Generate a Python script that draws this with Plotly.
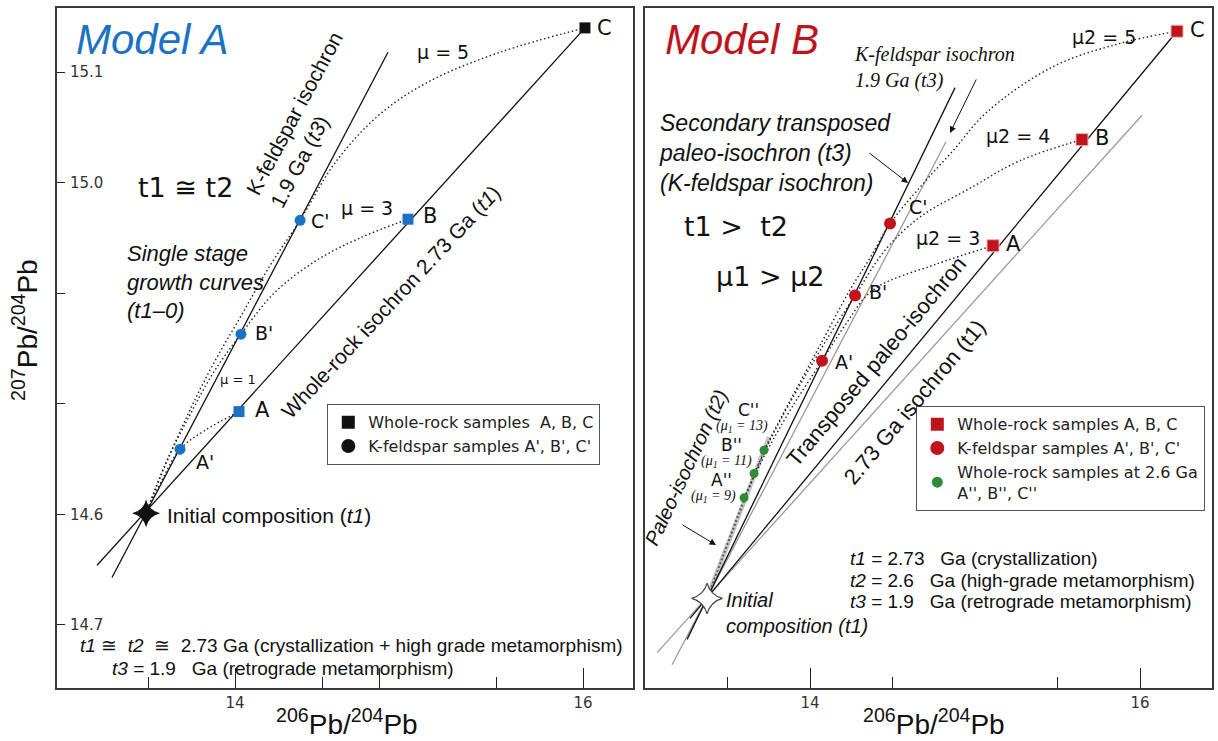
import plotly.graph_objects as go

W, H = 1218, 741

# ---------------- Model A data (206Pb/204Pb, 207Pb/204Pb, schematic) ----------------
a_wr_labels = ["A", "B", "C"]
a_wr_x = [14.023, 14.994, 16.011]
a_wr_y = [14.793, 14.967, 15.140]
a_wr_colors = ["#1b72c4", "#1b72c4", "#111111"]
a_kf_labels = ["A'", "B'", "C'"]
a_kf_x = [13.684, 14.034, 14.374]
a_kf_y = [14.759, 14.863, 14.966]
a_init_x = [13.489]
a_init_y = [14.701]
a_wr_iso_x = [13.207, 16.011]
a_wr_iso_y = [14.654, 15.140]
a_kf_iso_x = [13.293, 14.879]
a_kf_iso_y = [14.643, 15.118]
a_mu1_x = [13.489, 13.580, 13.684, 13.828, 14.023]
a_mu1_y = [14.701, 14.731, 14.759, 14.776, 14.793]
a_mu3_x = [13.489, 13.598, 13.741, 13.879, 14.034, 14.230, 14.471, 14.718, 14.994]
a_mu3_y = [14.701, 14.745, 14.790, 14.829, 14.863, 14.901, 14.930, 14.950, 14.967]
a_mu5_x = [13.489, 13.569, 13.713, 13.868, 14.029, 14.201, 14.374, 14.575, 14.833, 15.121, 15.523, 16.011]
a_mu5_y = [14.701, 14.733, 14.785, 14.834, 14.878, 14.925, 14.966, 15.018, 15.062, 15.092, 15.118, 15.140]

# ---------------- Model B data ----------------
b_wr_x = [15.109, 15.648, 16.224]
b_wr_y = [14.943, 15.039, 15.137]
b_kf_x = [14.073, 14.273, 14.485]
b_kf_y = [14.839, 14.898, 14.963]
b_t2_x = [13.600, 13.661, 13.721]
b_t2_y = [14.715, 14.737, 14.758]
b_init_x = [13.376]
b_init_y = [14.624]
b_transposed_x = [13.273, 16.224]
b_transposed_y = [14.606, 15.137]
b_secondary_x = [13.255, 14.879]
b_secondary_y = [14.587, 15.086]
b_t1iso_x = [13.073, 16.012]
b_t1iso_y = [14.575, 15.061]
b_kfiso_x = [13.164, 14.824]
b_kfiso_y = [14.564, 15.037]
b_paleo_x = [13.352, 13.752]
b_paleo_y = [14.615, 14.770]
b_mu3_x = [13.600, 13.727, 13.879, 14.073, 14.212, 14.382, 14.758, 15.109]
b_mu3_y = [14.715, 14.754, 14.794, 14.839, 14.871, 14.903, 14.926, 14.943]
b_mu4_x = [13.661, 13.788, 13.939, 14.109, 14.273, 14.455, 14.667, 14.970, 15.273, 15.648]
b_mu4_y = [14.737, 14.776, 14.817, 14.860, 14.898, 14.939, 14.969, 14.995, 15.020, 15.039]
b_mu5_x = [13.721, 13.879, 14.061, 14.242, 14.364, 14.485, 14.667, 14.867, 15.073, 15.473, 15.879, 16.224]
b_mu5_y = [14.758, 14.803, 14.853, 14.903, 14.932, 14.963, 14.996, 15.029, 15.064, 15.105, 15.126, 15.137]

# axis ticks
x_major_vals = [14, 14.83, 16]
x_major_text = ["14", "", "16"]
x_minor_vals = [13.5, 14.5, 15.5]
xb_major_vals = [14, 16]
xb_major_text = ["14", "16"]
y_tick_vals = [15.1, 15.0, 14.9, 14.8, 14.7, 14.6]
y_tick_text = ["15.1", "15.0", "", "", "14.6", "14.7"]

BLUE = "#1b72c4"
RED = "#c0141c"
GREEN = "#2e8b3a"
NARROW = "Liberation Sans Narrow, Arial Narrow, Liberation Sans, sans-serif"
SANS = "Liberation Sans, Arial, sans-serif"
GOTHIC = "DejaVu Sans, sans-serif"
SERIF = "Liberation Serif, Times New Roman, serif"
NB = "\u00a0"
DOT = "1.5px,2.6px"

fig = go.Figure()


def line(x, y, xa, ya, color="#111", width=1.3, dash="solid", shape="linear"):
    fig.add_trace(go.Scatter(x=x, y=y, xaxis=xa, yaxis=ya, mode="lines",
                             line=dict(color=color, width=width, dash=dash, shape=shape, smoothing=1.0),
                             showlegend=False, hoverinfo="skip"))


def pts(x, y, xa, ya, symbol, color, size, lc=None, lw=0):
    fig.add_trace(go.Scatter(x=x, y=y, xaxis=xa, yaxis=ya, mode="markers",
                             marker=dict(symbol=symbol, color=color, size=size,
                                         line=dict(color=lc or color, width=lw)),
                             showlegend=False, hoverinfo="skip"))


# ---- Model A ----
line(a_wr_iso_x, a_wr_iso_y, "x", "y")
line(a_kf_iso_x, a_kf_iso_y, "x", "y")
for cx, cy in [(a_mu1_x, a_mu1_y), (a_mu3_x, a_mu3_y), (a_mu5_x, a_mu5_y)]:
    line(cx, cy, "x", "y", color="#222", width=1.4, dash=DOT, shape="spline")
pts(a_wr_x, a_wr_y, "x", "y", "square", a_wr_colors, 11)
pts(a_kf_x, a_kf_y, "x", "y", "circle", BLUE, 11)
pts(a_init_x, a_init_y, "x", "y", "star-diamond", "#111", 20)

# ---- Model B ----
line(b_t1iso_x, b_t1iso_y, "x2", "y2", color="#9a9a9a", width=1.3)
line(b_kfiso_x, b_kfiso_y, "x2", "y2", color="#9a9a9a", width=1.3)
line(b_paleo_x, b_paleo_y, "x2", "y2", color="#c4c4c4", width=4.5)
line(b_transposed_x, b_transposed_y, "x2", "y2")
line(b_secondary_x, b_secondary_y, "x2", "y2")
for gx, gy in zip(b_t2_x, b_t2_y):
    line([b_init_x[0], gx], [b_init_y[0], gy], "x2", "y2", color="#555", width=1.2, dash=DOT)
for cx, cy in [(b_mu3_x, b_mu3_y), (b_mu4_x, b_mu4_y), (b_mu5_x, b_mu5_y)]:
    line(cx, cy, "x2", "y2", color="#222", width=1.4, dash=DOT, shape="spline")
pts(b_wr_x, b_wr_y, "x2", "y2", "square", RED, 12, lc="#e8b0b0", lw=1)
pts(b_kf_x, b_kf_y, "x2", "y2", "circle", RED, 12)
pts(b_t2_x, b_t2_y, "x2", "y2", "circle", GREEN, 9)
pts(b_init_x, b_init_y, "x2", "y2", "star-diamond", "white", 22, lc="#444", lw=1.2)

# ---- legends (legend-only traces) ----
for name, sym, col, sz, lg in [
    ("Whole-rock samples" + NB + NB + "A, B, C", "square", "#111", 13, "legend"),
    ("K-feldspar samples A', B', C'", "circle", "#111", 14, "legend"),
    ("Whole-rock samples A, B, C", "square", RED, 13, "legend2"),
    ("K-feldspar samples A', B', C'", "circle", RED, 14, "legend2"),
    ("Whole-rock samples at 2.6 Ga<br>A'', B'', C''", "circle", GREEN, 11, "legend2"),
]:
    fig.add_trace(go.Scatter(x=[None], y=[None], xaxis="x", yaxis="y", mode="markers", name=name,
                             marker=dict(symbol=sym, color=col, size=sz), legend=lg))


def P(px):
    return px / W


def Q(py):
    return 1 - py / H


ann = []


def T(text, x, y, size=19, font=GOTHIC, color="#111", xanchor="center", yanchor="middle",
      angle=0, align="center"):
    ann.append(dict(text=text, x=P(x), y=Q(y), xref="paper", yref="paper", showarrow=False,
                    xanchor=xanchor, yanchor=yanchor, textangle=angle, align=align,
                    font=dict(size=size, family=font, color=color)))


def ARROW(hx, hy, tx, ty):
    ann.append(dict(text="", x=P(hx), y=Q(hy), xref="paper", yref="paper", showarrow=True,
                    ax=tx - hx, ay=ty - hy, arrowhead=2, arrowsize=1.3, arrowwidth=1,
                    arrowcolor="#111"))


# Model A texts
T("<i>Model A</i>", 152, 40, size=42, font=SANS, color=BLUE)
T("K-feldspar isochron<br>1.9 Ga (<i>t3</i>)", 306, 120, size=21, font=NARROW, angle=-62, align="left")
T("\u03bc = 5", 443, 52)
T("C", 604, 28, size=21)
T("C'", 320, 221)
T("\u03bc = 3", 367, 208)
T("B", 430, 216, size=21)
T("B'", 264, 333)
T("\u03bc = 1", 238, 379, size=13)
T("A", 262, 410, size=21)
T("A'", 205, 462)
T("t1 " + "\u2245" + " t2", 185, 187, size=27)
T("<i>Single stage<br>growth curves<br>(t1\u20130)</i>", 125, 282, size=22, font=NARROW,
  xanchor="left", align="left")
T("Whole-rock isochron 2.73 Ga (<i>t1</i>)", 390, 302, size=21, font=NARROW, angle=-47)
T("Initial composition (<i>t1</i>)", 165, 515, size=21, font=NARROW, xanchor="left")
T("<i>t1</i> \u2245 " + NB + "<i>t2</i>" + NB + " \u2245 " + NB + "2.73 Ga (crystallization + high grade metamorphism)",
  78, 645, size=19, font=NARROW, xanchor="left")
T("<i>t3</i> = 1.9" + NB * 3 + "Ga (retrograde metamorphism)", 110, 668, size=19, font=NARROW, xanchor="left")

# Model B texts
T("<i>Model B</i>", 742, 40, size=42, font=SANS, color=RED)
T("<i>K-feldspar isochron<br>1.9 Ga (t3)</i>", 852, 68, size=20, font=SERIF, xanchor="left", align="left")
ARROW(950, 133, 977, 78)
T("<i>Secondary transposed<br>paleo-isochron (t3)<br>(K-feldspar isochron)</i>", 657, 153, size=23,
  font=SANS, xanchor="left", align="left")
ARROW(908, 183, 868, 152)
T("t1 >" + NB + " t2", 736, 226, size=27)
T("\u03bc1 > \u03bc2", 770, 276, size=27)
T("C'", 918, 207)
T("B'", 878, 292)
T("A'", 844, 362)
T("\u03bc2 = 3", 948, 238)
T("\u03bc2 = 4", 1018, 136)
T("\u03bc2 = 5", 1104, 37)
T("A", 1013, 244, size=21)
T("B", 1102, 138, size=21)
T("C", 1197, 30, size=21)
T("Transposed paleo-isochron", 876, 361, size=22, font=NARROW, angle=-50)
T("2.73 Ga isochron (t1)", 914, 402, size=22, font=NARROW, angle=-50)
T("<i>Paleo-isochron (t2)</i>", 686, 468, size=20, font=SANS, angle=-65)
ARROW(716, 545, 681, 524)
T("C''", 748, 410, size=17)
T("<i>(\u03bc<sub>1</sub> = 13)</i>", 742, 426, size=14, font=SERIF)
T("B''", 731, 445, size=17)
T("<i>(\u03bc<sub>1</sub> = 11)</i>", 726, 461, size=14, font=SERIF)
T("A''", 721, 480, size=17)
T("<i>(\u03bc<sub>1</sub> = 9)</i>", 714, 496, size=14, font=SERIF)
T("<i>Initial<br>composition (t1)</i>", 724, 613, size=20, font=SANS, xanchor="left", align="left")
T("<i>t1</i> = 2.73" + NB * 3 + "Ga (crystallization)", 848, 558, size=19, font=NARROW, xanchor="left")
T("<i>t2</i> = 2.6" + NB * 3 + "Ga (high-grade metamorphism)", 848, 580, size=19, font=NARROW, xanchor="left")
T("<i>t3</i> = 1.9" + NB * 3 + "Ga (retrograde metamorphism)", 848, 601, size=19, font=NARROW, xanchor="left")

# axis titles
T("<sup>206</sup>Pb/<sup>204</sup>Pb", 347, 722, size=28, font=NARROW)
T("<sup>206</sup>Pb/<sup>204</sup>Pb", 934, 722, size=28, font=NARROW)
T("<sup>207</sup>Pb/<sup>204</sup>Pb", 25, 330, size=28, font=NARROW, angle=-90)

FRAME = "#3a3a3a"
common_x = dict(showline=True, mirror=True, linecolor=FRAME, linewidth=2, showgrid=False, zeroline=False,
                ticks="inside", ticklen=20, tickwidth=1.3, tickcolor="#222", automargin=False,
                tickfont=dict(size=15, family=GOTHIC, color="#333"), tickmode="array",
                minor=dict(tickvals=x_minor_vals, ticks="inside", ticklen=11, tickwidth=1.3, tickcolor="#222"))

fig.update_layout(
    width=W, height=H, margin=dict(l=0, r=0, t=0, b=0),
    paper_bgcolor="white", plot_bgcolor="white",
    xaxis=dict(domain=[57 / W, 633 / W], range=[12.977, 16.287], tickvals=x_major_vals,
               ticktext=x_major_text, **common_x),
    yaxis=dict(domain=[53 / H, 733 / H], range=[14.543, 15.158], showline=True, mirror=True,
               linecolor=FRAME, linewidth=2, showgrid=False, zeroline=False, ticks="inside",
               ticklen=8, tickwidth=1.3, tickcolor="#222", ticklabelposition="inside",
               ticklabelstandoff=5,
               tickmode="array", tickvals=y_tick_vals, ticktext=y_tick_text, automargin=False,
               tickfont=dict(size=15, family=GOTHIC, color="#333")),
    xaxis2=dict(domain=[645 / W, 1212 / W], range=[13.0, 16.436], anchor="y2", tickvals=xb_major_vals,
                ticktext=xb_major_text, **common_x),
    yaxis2=dict(domain=[53 / H, 733 / H], range=[14.543, 15.158], anchor="x2", showline=True,
                mirror=True, linecolor=FRAME, linewidth=2, showgrid=False, zeroline=False,
                showticklabels=False, ticks="", automargin=False),
    legend=dict(x=P(327), y=Q(404), xanchor="left", yanchor="top", bordercolor="#555", borderwidth=1.3,
                bgcolor="white", font=dict(size=16, family=GOTHIC, color="#222"), itemsizing="trace",
                tracegroupgap=0),
    legend2=dict(x=P(916), y=Q(406), xanchor="left", yanchor="top", bordercolor="#555", borderwidth=1.3,
                 bgcolor="white", font=dict(size=16, family=GOTHIC, color="#222"), itemsizing="trace",
                 tracegroupgap=0),
    annotations=ann,
    showlegend=True,
)

fig.write_html("out.html")
